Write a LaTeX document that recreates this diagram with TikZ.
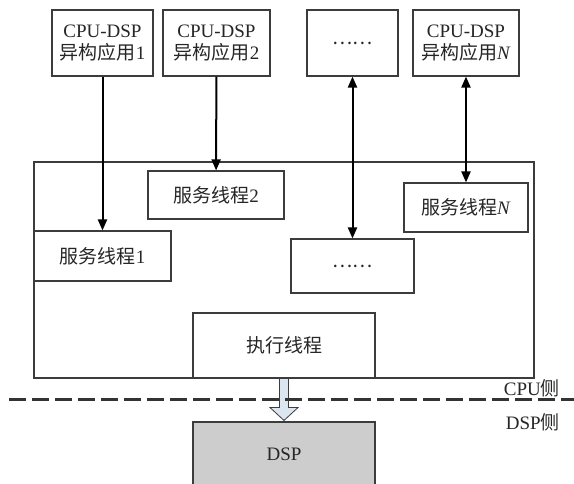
\documentclass[tikz,border=0pt]{standalone}
\usepackage{fontspec}
\setmainfont{Liberation Serif}
\newfontfamily\cjk{Noto Sans CJK SC}
\usepackage{tikz}
\usetikzlibrary{arrows.meta, positioning, calc}
\definecolor{linegray}{RGB}{60, 60, 60}
\definecolor{dspgray}{RGB}{205, 205, 205}
\definecolor{flowblue}{RGB}{220, 230, 240}

\begin{document}
\begin{tikzpicture}[
  x=1pt, y=-1pt,
  every node/.style={font=\fontsize{19}{22}\selectfont, text=black!85},
  box/.style={
    draw=linegray, fill=white, line width=1.1pt,
    align=center, inner sep=0pt
  },
  link/.style={line width=2pt, -{Triangle[length=11pt, width=9pt]}},
  duplex/.style={line width=2pt, {Triangle[length=11pt, width=9pt]}-{Triangle[length=11pt, width=9pt]}},
  flow/.style={draw=linegray, fill=flowblue, line width=0.8pt},
  side/.style={anchor=east, inner sep=0pt}
]
  \clip (0,0) rectangle (574,484);

  % CPU侧进程框
  \node[box, minimum width=500, minimum height=216] (cpu) at (284,270) {};

  % 异构应用
  \node[box, minimum width=101, minimum height=66] (app1) at (102.5,43) {CPU-DSP\\{\cjk 异构应用}1};
  \node[box, minimum width=107, minimum height=66] (app2) at (216.5,43) {CPU-DSP\\{\cjk 异构应用}2};
  \node[box, minimum width=91, minimum height=66] (appdots) at (352.5,43) {{\cjk ……}};
  \node[box, minimum width=106, minimum height=66] (appN) at (466,43) {CPU-DSP\\{\cjk 异构应用}\textit{N}};

  % 服务线程
  \node[box, minimum width=136, minimum height=48] (svc2) at (216,195) {{\cjk 服务线程}2};
  \node[box, minimum width=137, minimum height=50] (svc1) at (102.5,256) {{\cjk 服务线程}1};
  \node[box, minimum width=123, minimum height=54] (svcdots) at (352.5,266) {{\cjk ……}};
  \node[box, minimum width=124, minimum height=49] (svcN) at (466,207.5) {{\cjk 服务线程}\textit{N}};

  % 执行线程与DSP
  \node[box, minimum width=182, minimum height=65] (exec) at (284,345.5) {{\cjk 执行线程}};
  \node[box, fill=dspgray, minimum width=182, minimum height=64] (dsp) at (284,454) {DSP};

  % 应用与服务线程之间的连线
  \draw[link] (app1) -- (svc1);
  \draw[link] (app2) -- (svc2);
  \draw[duplex] (appdots) -- (svcdots);
  \draw[duplex] (appN) -- (svcN);

  % 执行线程到DSP
  \draw[flow] ($(exec.south)+(-4.5,0)$) -- ++(0,29) -- ++(-9.5,0) -- ($(dsp.north)+(0,-1)$)
    -- ($(exec.south)+(14,29)$) -- ++(-9.5,0) -- ($(exec.south)+(4.5,0)$) -- cycle;

  % CPU/DSP分界线
  \coordinate (cutL) at (9,399);
  \coordinate (cutR) at (580,399);
  \draw[line width=3pt, black!80, dash pattern=on 17pt off 6pt] (cutL) -- (cutR);
  \node[side] (cpuside) at (560,388) {CPU{\cjk 侧}};
  \node[side] (dspside) at (560,422) {DSP{\cjk 侧}};
\end{tikzpicture}
\end{document}
